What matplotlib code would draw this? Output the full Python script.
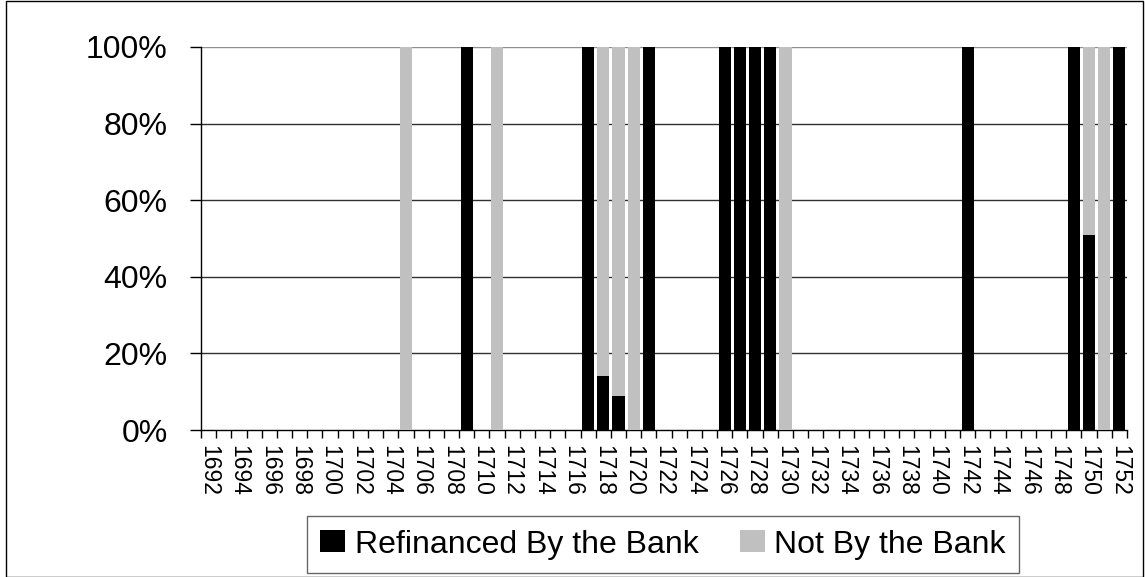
import matplotlib
matplotlib.use("Agg")
import matplotlib.pyplot as plt
from matplotlib.patches import Rectangle
import numpy as np

plt.rcParams['font.family'] = ['Liberation Sans', 'DejaVu Sans']

years = list(range(1692, 1753))
# Share (%) refinanced by the bank, by year (0 where no data)
refinanced_pts = {1709: 100, 1717: 100, 1718: 14, 1719: 9, 1721: 100,
                  1726: 100, 1727: 100, 1728: 100, 1729: 100,
                  1742: 100, 1749: 100, 1750: 51, 1752: 100}
not_by_bank_pts = {1705: 100, 1711: 100, 1718: 86, 1719: 91, 1720: 100,
                   1730: 100, 1750: 49, 1751: 100}
refinanced = [refinanced_pts.get(y, 0) for y in years]
not_by_bank = [not_by_bank_pts.get(y, 0) for y in years]
series_names = ["Refinanced By the Bank", "Not By the Bank"]
ytick_vals = [0, 20, 40, 60, 80, 100]
ytick_labels = ["0%", "20%", "40%", "60%", "80%", "100%"]

W, H = 1145, 577
fig = plt.figure(figsize=(W / 100, H / 100), dpi=100)
ax = fig.add_axes([201 / W, 1 - 430 / H, 926 / W, 383 / H])

x = np.arange(len(years))
ax.bar(x, refinanced, width=0.8, color='black', label=series_names[0], zorder=3)
ax.bar(x, not_by_bank, width=0.8, bottom=refinanced, color='#c0c0c0',
       label=series_names[1], zorder=3)

ax.set_xlim(-0.5, len(years) - 0.5)
ax.set_ylim(0, 100)

# y axis
ax.set_yticks(ytick_vals)
ax.set_yticklabels(ytick_labels, fontsize=23)
ax.tick_params(axis='y', length=8, width=1, pad=16, colors='black')
for v in ytick_vals[1:]:
    ax.axhline(v, color='#303030' if v < 100 else '#909090', lw=1, zorder=1)

# x axis: ticks at category boundaries, labels every 2 years
ax.set_xticks(np.arange(len(years) + 1) - 0.5)
ax.set_xticklabels([])
ax.tick_params(axis='x', which='major', length=6, width=1, direction='out')
lab_idx = x[::2]
ax.set_xticks(lab_idx, minor=True)
ax.set_xticklabels([str(years[i]) for i in lab_idx], minor=True,
                   rotation=270, fontsize=16.5)
ax.tick_params(axis='x', which='minor', length=0, pad=11)

for s in ['top', 'right']:
    ax.spines[s].set_visible(False)
for s in ['left', 'bottom']:
    ax.spines[s].set_color('black')
    ax.spines[s].set_linewidth(1)

leg = fig.legend(loc='lower center', bbox_to_anchor=(663 / W, 4 / H), ncol=2,
                 fontsize=23, frameon=True, fancybox=False, edgecolor='#404040',
                 handlelength=0.78, handleheight=0.69, handletextpad=0.3,
                 columnspacing=1.3, borderpad=0.42, borderaxespad=0)
leg.get_frame().set_linewidth(1)

fig.patches.append(Rectangle((6 / W, 0.5 / H), (1143 - 6) / W, (576) / H,
                             fill=False, edgecolor='black', lw=1,
                             transform=fig.transFigure))

fig.savefig("out.png", dpi=100)
